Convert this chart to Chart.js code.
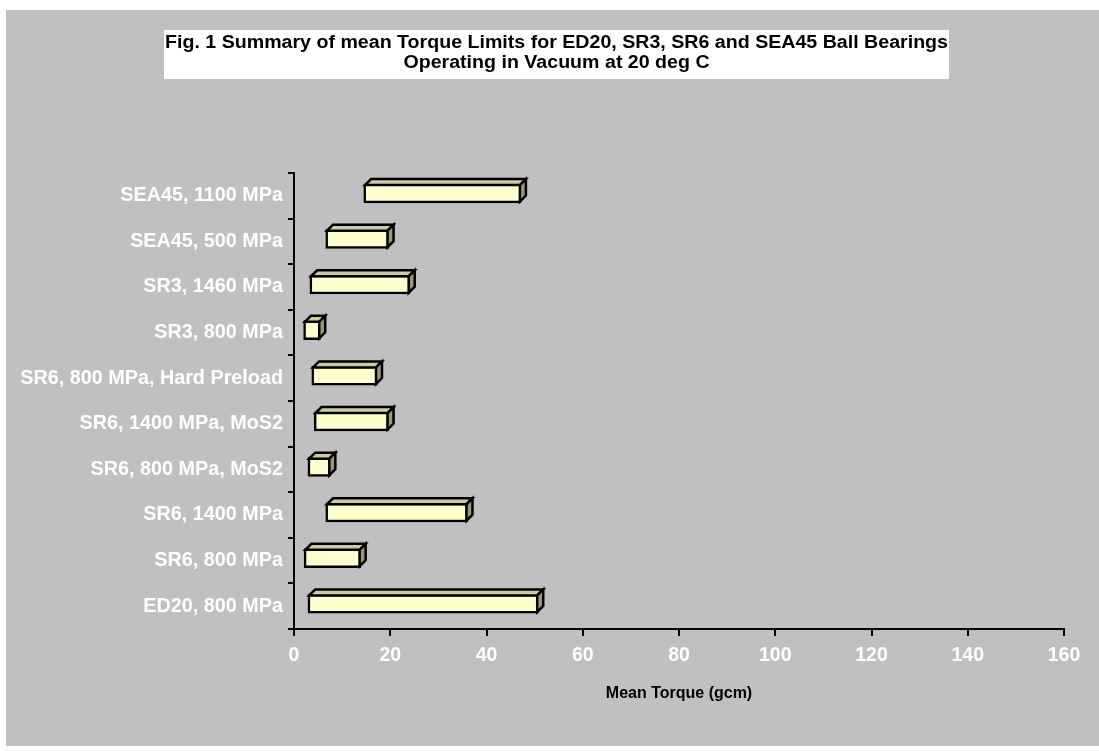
<!DOCTYPE html>
<html><head><meta charset="utf-8">
<script src="https://cdn.jsdelivr.net/npm/chart.js@4"></script>
<style>
html,body{margin:0;padding:0;background:#fff;overflow:hidden;}
#wrap{position:absolute;left:6px;top:10px;width:1093px;height:736px;background:#c0c0c0;}
</style></head><body>
<div id="wrap"><canvas id="c"></canvas></div>
<script>
const categories = [
  'SEA45, 1100 MPa',
  'SEA45, 500 MPa',
  'SR3, 1460 MPa',
  'SR3, 800 MPa',
  'SR6, 800 MPa, Hard Preload',
  'SR6, 1400 MPa, MoS2',
  'SR6, 800 MPa, MoS2',
  'SR6, 1400 MPa',
  'SR6, 800 MPa',
  'ED20, 800 MPa'
];
const torqueMin = [14.5, 6.6, 3.3, 2.0, 3.7, 4.2, 2.9, 6.6, 2.1, 2.9];
const torqueMax = [47.2, 19.7, 24.1, 5.5, 17.3, 19.7, 7.6, 36.1, 13.9, 50.8];
const xTickValues = [0, 20, 40, 60, 80, 100, 120, 140, 160];
const titleLines = [
  'Fig. 1 Summary of mean Torque Limits for ED20, SR3, SR6 and SEA45 Ball Bearings',
  'Operating in Vacuum at 20 deg C'
];
const xAxisTitle = 'Mean Torque (gcm)';

const FONT = '"Liberation Sans", Arial, sans-serif';
const DEPTH = 6;
const FRONT_SHIFT = -2.5;
const LW = 2.5;

const bar3d = {
  id: 'bar3d',
  beforeDatasetsDraw(chart) {
    chart.ctx.save();
    chart.ctx.translate(0, FRONT_SHIFT);
  },
  afterDatasetsDraw(chart) {
    const ctx = chart.ctx;
    const meta = chart.getDatasetMeta(0);
    ctx.lineWidth = LW;
    ctx.lineJoin = 'miter';
    ctx.strokeStyle = '#000';
    const h = LW / 2;
    meta.data.forEach(el => {
      const p = el.getProps(['x', 'y', 'base', 'height'], true);
      const l = Math.min(p.x, p.base) + h, r = Math.max(p.x, p.base) - h;
      const t = p.y - p.height / 2 + h, b = p.y + p.height / 2 - h;
      const d = DEPTH;
      ctx.beginPath();
      ctx.moveTo(l, t); ctx.lineTo(l + d, t - d); ctx.lineTo(r + d, t - d); ctx.lineTo(r, t); ctx.closePath();
      ctx.fillStyle = '#cccc9f'; ctx.fill(); ctx.stroke();
      ctx.beginPath();
      ctx.moveTo(r, t); ctx.lineTo(r + d, t - d); ctx.lineTo(r + d, b - d); ctx.lineTo(r, b); ctx.closePath();
      ctx.fillStyle = '#999977'; ctx.fill(); ctx.stroke();
    });
    ctx.restore();
  }
};

const titleBox = {
  id: 'titleBox',
  afterDraw(chart) {
    const ctx = chart.ctx;
    ctx.save();
    ctx.fillStyle = '#ffffff';
    ctx.fillRect(158, 20, 785, 49);
    ctx.fillStyle = '#000';
    ctx.font = 'bold 17.5px ' + FONT;
    ctx.textAlign = 'center';
    ctx.textBaseline = 'middle';
    const cx = 550.5;
    const ys = [33, 53];
    titleLines.forEach((line, i) => {
      ctx.save();
      ctx.translate(cx, ys[i]);
      const w = ctx.measureText(titleLines[0]).width;
      ctx.scale(783 / w, 1);
      ctx.fillText(line, 0, 0);
      ctx.restore();
    });
    ctx.restore();
  }
};

new Chart(document.getElementById('c'), {
  type: 'bar',
  data: {
    labels: categories,
    datasets: [{
      data: categories.map((c, i) => [torqueMin[i], torqueMax[i]]),
      backgroundColor: '#ffffcc',
      borderColor: '#000',
      borderWidth: LW,
      borderSkipped: false,
      barThickness: 19
    }]
  },
  options: {
    indexAxis: 'y',
    responsive: true,
    maintainAspectRatio: false,
    animation: false,
    layout: { padding: { top: 163, right: 35, bottom: 0, left: 0 } },
    plugins: { legend: { display: false }, tooltip: { enabled: false }, title: { display: false } },
    scales: {
      y: {
        type: 'category',
        offset: true,
        grid: { drawOnChartArea: false, drawTicks: true, tickLength: 6, color: '#000', lineWidth: 2, offset: true },
        border: { display: true, color: '#000', width: 2 },
        ticks: { color: '#fff', padding: 5, font: { family: FONT, size: 19.8, weight: 'bold' } },
        afterFit: s => { s.width = 288; }
      },
      x: {
        type: 'linear',
        min: 0, max: 160,
        afterBuildTicks: s => { s.ticks = xTickValues.map(v => ({ value: v })); },
        grid: { drawOnChartArea: false, drawTicks: true, tickLength: 7, color: '#000', lineWidth: 2 },
        border: { display: true, color: '#000', width: 2 },
        ticks: { color: '#fff', padding: 8, maxRotation: 0, autoSkip: false, font: { family: FONT, size: 19.5, weight: 'bold' } },
        title: { display: true, text: xAxisTitle, color: '#000', font: { family: FONT, size: 16, weight: 'bold' }, padding: { top: 0, bottom: 43 } },
        afterFit: s => { s.height = 117; }
      }
    }
  },
  plugins: [bar3d, titleBox]
});
</script>
</body></html>
